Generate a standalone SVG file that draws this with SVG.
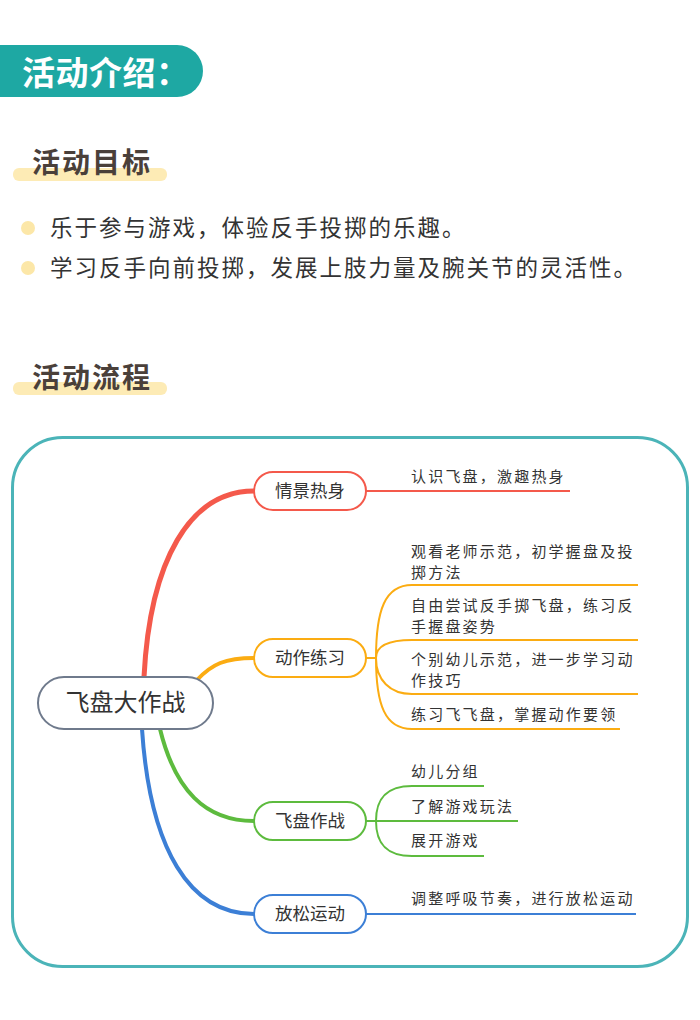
<svg xmlns="http://www.w3.org/2000/svg" width="700" height="1020" viewBox="0 0 700 1020">
<style>
text{font-family:"Noto Sans CJK SC","Noto Sans",sans-serif}
.h{font-size:28px;font-weight:bold;fill:#4a403a;letter-spacing:2px}
.b{font-size:22.5px;fill:#333;letter-spacing:2px}
.n{fill:#fff;stroke-width:2}
.nt{font-size:17.5px;fill:#333;text-anchor:middle}
.l{font-size:15px;fill:#333;letter-spacing:2.2px}
.c{fill:none}
</style>
<rect width="700" height="1020" fill="#fff"/>
<path d="M0 45H177A26 26 0 0 1 177 97H0Z" fill="#1EA8A3"/>
<text x="22" y="85" font-size="33" font-weight="bold" fill="#fff" letter-spacing="0.5">活动介绍：</text>
<rect x="13" y="168" width="154" height="13" rx="6" fill="#FDEBB5"/>
<text x="32" y="173" class="h">活动目标</text>
<circle cx="28" cy="228" r="7" fill="#FCE7A8"/>
<circle cx="28" cy="268" r="7" fill="#FCE7A8"/>
<text x="50" y="236" class="b">乐于参与游戏，体验反手投掷的乐趣。</text>
<text x="50" y="276" class="b">学习反手向前投掷，发展上肢力量及腕关节的灵活性。</text>
<rect x="13" y="382" width="154" height="13" rx="6" fill="#FDEBB5"/>
<text x="32" y="388" class="h">活动流程</text>
<rect x="12.5" y="437.5" width="675" height="529" rx="50" fill="none" stroke="#4BB4B8" stroke-width="3"/>
<g id="connectors">
<path class="c" stroke="#F4594B" stroke-width="5" d="M144 677C150 560 190 491 254 491"/>
<path class="c" stroke="#FBAC12" stroke-width="4" d="M197 680C212 664 225 658 254 658"/>
<path class="c" stroke="#5DBB3E" stroke-width="4" d="M160 729C175 790 205 821 254 821"/>
<path class="c" stroke="#3C7FD6" stroke-width="4" d="M142 729C150 850 190 914 254 914"/>
<path class="c" stroke="#F4594B" stroke-width="2" d="M366 491H570"/>
<path class="c" stroke="#FBAC12" stroke-width="2" d="M366 658H376M376 658C376 610 385 585 412 585H638M376 658C376 645 390 640 412 640H638M376 658C376 680 390 694 412 694H638M376 658C376 705 385 729 412 729H620"/>
<path class="c" stroke="#5DBB3E" stroke-width="2" d="M366 821H518M376 821C376 800 385 786 412 786H484M376 821C376 842 385 856 412 856H484"/>
<path class="c" stroke="#3C7FD6" stroke-width="2" d="M366 914H636"/>
</g>
<g id="root"><rect x="38" y="677" width="175" height="52" rx="26" class="n" stroke="#6F7A8C"/><text x="125.5" y="711" font-size="24" fill="#333" text-anchor="middle">飞盘大作战</text></g>
<g id="n1"><rect x="254" y="472" width="112" height="38" rx="19" class="n" stroke="#F4594B"/><text x="310" y="497" class="nt">情景热身</text></g>
<g id="n2"><rect x="254" y="639" width="112" height="38" rx="19" class="n" stroke="#FBAC12"/><text x="310" y="664" class="nt">动作练习</text></g>
<g id="n3"><rect x="254" y="802" width="112" height="38" rx="19" class="n" stroke="#5DBB3E"/><text x="310" y="827" class="nt">飞盘作战</text></g>
<g id="n4"><rect x="254" y="895" width="112" height="38" rx="19" class="n" stroke="#3C7FD6"/><text x="310" y="920" class="nt">放松运动</text></g>
<g id="leaves">
<text x="411" y="482" class="l">认识飞盘，激趣热身</text>
<text x="411" y="557" class="l">观看老师示范，初学握盘及投</text>
<text x="411" y="578" class="l">掷方法</text>
<text x="411" y="611" class="l">自由尝试反手掷飞盘，练习反</text>
<text x="411" y="632" class="l">手握盘姿势</text>
<text x="411" y="665" class="l">个别幼儿示范，进一步学习动</text>
<text x="411" y="686" class="l">作技巧</text>
<text x="411" y="720" class="l">练习飞飞盘，掌握动作要领</text>
<text x="411" y="777" class="l">幼儿分组</text>
<text x="411" y="812" class="l">了解游戏玩法</text>
<text x="411" y="846" class="l">展开游戏</text>
<text x="411" y="904" class="l">调整呼吸节奏，进行放松运动</text>
</g>
</svg>
